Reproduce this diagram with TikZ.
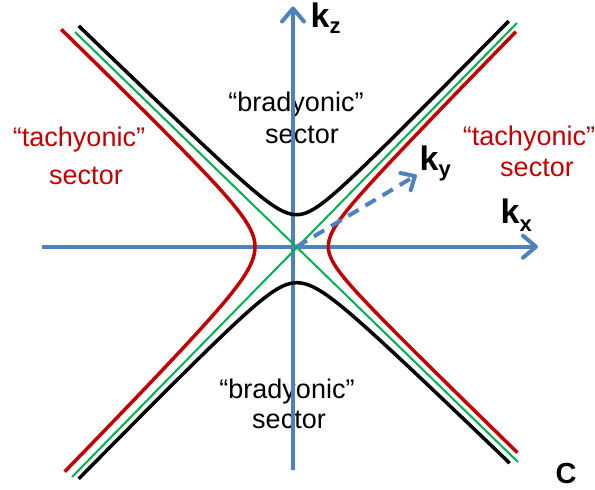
\documentclass[tikz,border=0pt]{standalone}
\usepackage{fontspec}
\setmainfont{Liberation Sans}
\usetikzlibrary{arrows.meta}
\definecolor{axisblue}{RGB}{79,129,189}
\definecolor{cred}{RGB}{192,0,0}
\definecolor{cgreen}{RGB}{0,176,80}
\begin{document}
\begin{tikzpicture}[x=1pt,y=-1pt,
  axis/.style={axisblue, line width=4pt, -{Straight Barb[length=13pt,width=22pt,round]}},
  dasharrow/.style={axisblue, line width=4pt, dash pattern=on 12pt off 8pt, -{Straight Barb[length=11pt,width=20pt,round]}},
  blackcurve/.style={black, line width=3.5pt},
  redcurve/.style={cred, line width=3.5pt},
  greenline/.style={cgreen, line width=2pt},
  lbl/.style={inner sep=0pt, anchor=base, font=\fontsize{27}{27}\selectfont},
  redlbl/.style={lbl, text=cred},
  klbl/.style={inner sep=0pt, anchor=base west, font=\fontsize{34}{34}\selectfont\bfseries},
]
\useasboundingbox (0,0) rectangle (595,490);
\newcommand{\subk}[2]{\raisebox{-#1pt}{\fontsize{22}{22}\selectfont\bfseries #2}}

% sector labels
\node[redlbl] (tachL1) at (79,146.5) {“tachyonic”};
\node[redlbl] (tachL2) at (86,184) {sector};
\node[redlbl] (tachR1) at (529,145) {“tachyonic”};
\node[redlbl] (tachR2) at (537,176) {sector};
\node[lbl] (bradT1) at (296,111.5) {“bradyonic”};
\node[lbl] (bradT2) at (302,143) {sector};
\node[lbl] (bradB1) at (287,398) {“bradyonic”};
\node[lbl] (bradB2) at (289,428) {sector};

% axes
\coordinate (O) at (296.7,246.7);
\coordinate (xl) at (42,246.7);
\coordinate (xr) at (538,246.7);
\coordinate (zb) at (293,470);
\coordinate (zt) at (293,6.5);
\coordinate (yt) at (416.7,175);
\draw[axis] (xl) -- (xr);
\draw[axis] (zb) -- (zt);

% asymptotes
\coordinate (gUL) at (75,32);
\coordinate (gLR) at (518,462);
\coordinate (gLL) at (72,477);
\coordinate (gUR) at (517,23);
\draw[greenline] (gUL) -- (gLR);
\draw[greenline] (gLL) -- (gUR);

% black hyperbola (bradyonic)
\draw[blackcurve] plot[domain=-21.8:21.2, samples=90, smooth]
  ({296.7+10*\x}, {246.7-10*(0.8+sqrt(2.4*2.4+((0.97+0.05*(\x>0))*\x)*((0.97+0.05*(\x>0))*\x)))});
\draw[blackcurve] plot[domain=-21.8:21.3, samples=90, smooth]
  ({296.7+10*\x}, {246.7+10*(0.8+sqrt(2.8*2.8+((1.02-0.05*(\x>0))*\x)*((1.02-0.05*(\x>0))*\x)))});

% red hyperbola (tachyonic)
\draw[redcurve] plot[domain=-21.74:22.5, samples=90, smooth]
  ({296.7-10*(0.9+sqrt(3.27*3.27+(\x/(0.97+0.05*(\x>0)))*(\x/(0.97+0.05*(\x>0)))))}, {246.7+10*\x});
\draw[redcurve] plot[domain=-21.5:20.6, samples=90, smooth]
  ({296.7+10*(0.7+sqrt(2.46*2.46+(\x/(1.02-0.05*(\x>0)))*(\x/(1.02-0.05*(\x>0)))))}, {246.7+10*\x});

% k_y dashed arrow
\draw[dasharrow] (O) -- (yt);

% axis labels
\node[klbl] (kz) at (310.5,27) {k\subk{6}{z}};
\node[klbl] (ky) at (419.5,170) {k\subk{6}{y}};
\node[klbl] (kx) at (500.5,223) {k\subk{8}{x}};
\node[inner sep=0pt, anchor=base west, font=\fontsize{29}{29}\selectfont\bfseries] (clbl) at (555.5,483) {C};
\end{tikzpicture}
\end{document}
